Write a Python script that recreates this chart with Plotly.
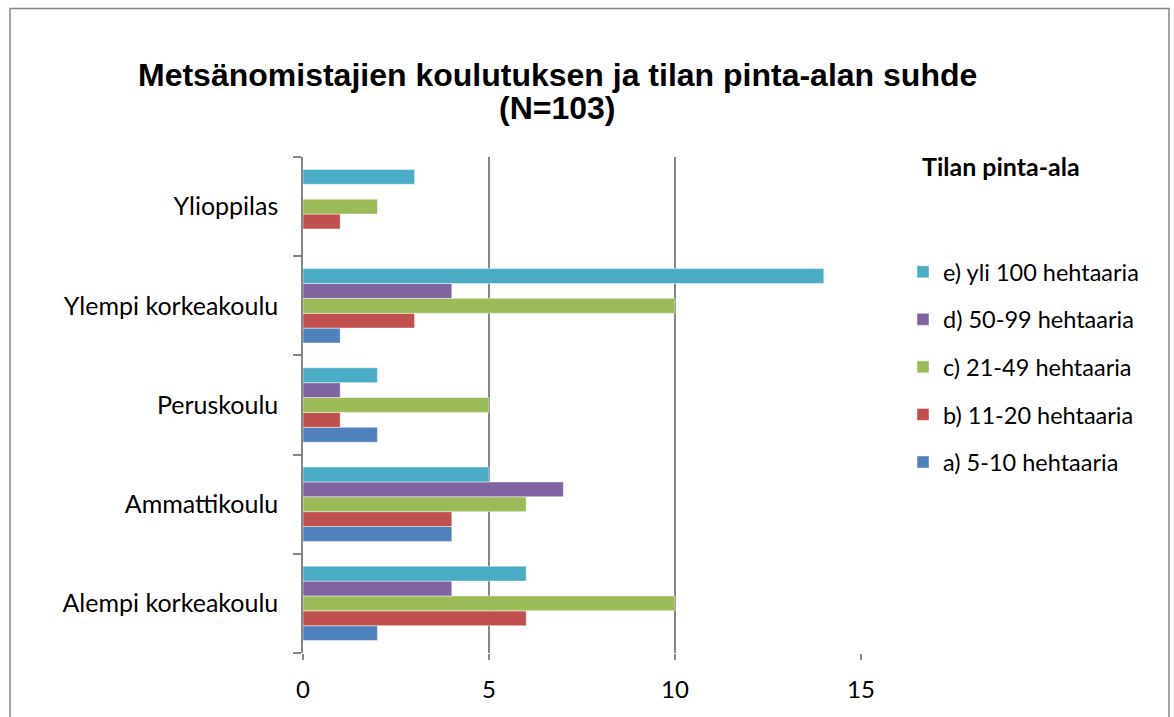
import plotly.graph_objects as go

categories = ["Alempi korkeakoulu", "Ammattikoulu", "Peruskoulu", "Ylempi korkeakoulu", "Ylioppilas"]
series_names = ["a) 5-10 hehtaaria", "b) 11-20 hehtaaria", "c) 21-49 hehtaaria",
                "d) 50-99 hehtaaria", "e) yli 100 hehtaaria"]
a_vals = [2, 4, 2, 1, 0]
b_vals = [6, 4, 1, 3, 1]
c_vals = [10, 6, 5, 10, 2]
d_vals = [4, 7, 1, 4, 0]
e_vals = [6, 5, 2, 14, 3]
colors = ["#4F81BD", "#C0504D", "#9BBB59", "#8064A2", "#4BACC6"]
x_ticks = [0, 5, 10, 15]

# body margin is removed below, so figure coordinates = screen coordinates
W, H = 1174, 717
L, R, T, B = 303, 861, 157, 653
pw, ph = R - L, B - T

def px(xs):
    return (xs - L) / pw

def py(ys):
    return (B - ys) / ph

fig = go.Figure()
all_vals = [a_vals, b_vals, c_vals, d_vals, e_vals]
for i, (name, vals) in enumerate(zip(series_names, all_vals)):
    fig.add_trace(go.Bar(
        y=categories, x=vals, name=name, orientation="h",
        marker=dict(color=colors[i], line=dict(color="rgba(255,255,255,0.45)", width=1)),
        legendgroup=name, legendrank=100 - i,
    ))

label_font = "Lato, Carlito, Calibri, sans-serif"

fig.update_layout(
    width=W, height=H,
    margin=dict(l=L, r=W - R, t=T, b=H - B),
    paper_bgcolor="white", plot_bgcolor="white",
    barmode="group", bargap=0.25, bargroupgap=0,
    showlegend=True,
    legend=dict(
        traceorder="grouped", tracegroupgap=14,
        x=px(903), xanchor="left", y=py(250), yanchor="top",
        font=dict(family=label_font, size=23.5, color="#000000"),
        bgcolor="rgba(0,0,0,0)",
    ),
    xaxis=dict(
        range=[0, 15], tickvals=x_ticks, ticks="outside", ticklen=6, tickcolor="#868686",
        tickwidth=1.5, showgrid=True, gridcolor="#868686", gridwidth=1.5,
        showline=False, zeroline=False,
        tickfont=dict(family=label_font, size=24, color="#000000"),
        ticklabelstandoff=9,
    ),
    yaxis=dict(
        type="category", categoryorder="array", categoryarray=categories,
        tickson="boundaries", ticks="outside", ticklen=8, tickcolor="#868686", tickwidth=1.5,
        showline=True, linecolor="#868686", linewidth=1.5, showgrid=False,
        tickfont=dict(family=label_font, size=25, color="#000000"),
        ticklabelstandoff=18,
    ),
    font=dict(family=label_font),
)

title_font = dict(family="Liberation Sans, Arial, sans-serif", size=32, color="#000000")
fig.add_annotation(
    xref="paper", yref="paper", x=px(557), y=py(75), xanchor="center", yanchor="middle",
    text="<b>Metsänomistajien koulutuksen ja tilan pinta-alan suhde</b>",
    showarrow=False, font=title_font,
)
fig.add_annotation(
    xref="paper", yref="paper", x=px(557), y=py(108), xanchor="center", yanchor="middle",
    text="<b>(N=103)</b>", showarrow=False, font=title_font,
)
fig.add_annotation(
    xref="paper", yref="paper", x=px(920), y=py(166), xanchor="left", yanchor="middle",
    text="<b>Tilan pinta-ala</b>", showarrow=False,
    font=dict(family=label_font, size=25, color="#000000"),
)

# outer chart-area border
fig.add_shape(
    type="rect", xref="paper", yref="paper",
    x0=px(10), x1=px(1169), y0=py(730), y1=py(8.5),
    line=dict(color="#868686", width=1.5), fillcolor="rgba(0,0,0,0)", layer="above",
)

fig.write_html(
    "out.html",
    config={"displayModeBar": False},
    post_script="document.body.style.margin='0px';document.body.style.overflow='hidden';",
)
